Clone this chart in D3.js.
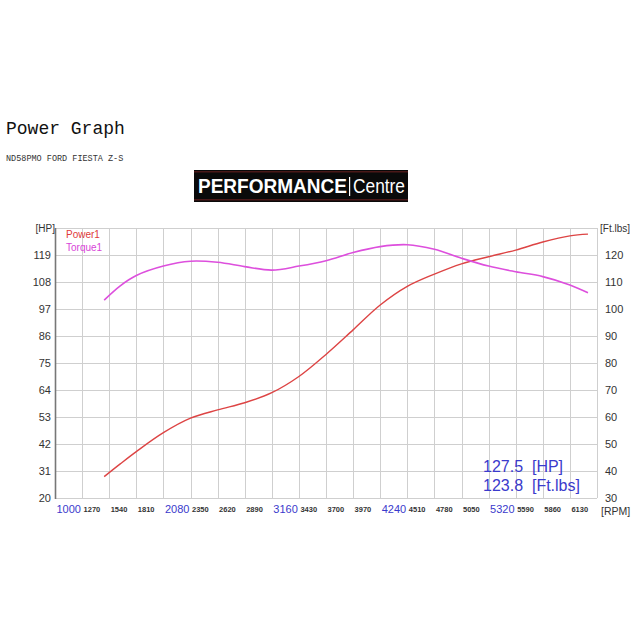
<!DOCTYPE html>
<html><head><meta charset="utf-8">
<script src="https://cdn.jsdelivr.net/npm/d3@7"></script>
<style>body{margin:0;background:#fff}svg{display:block}</style>
</head><body>
<script>
const title = "Power Graph";
const subtitle = "ND58PMO FORD FIESTA Z-S";
const rpmTicks = [1000,1270,1540,1810,2080,2350,2620,2890,3160,3430,3700,3970,4240,4510,4780,5050,5320,5590,5860,6130];
const hpTicks = [20,31,42,53,64,75,86,97,108,119];
const tqTicks = [30,40,50,60,70,80,90,100,110,120];
const rpm = [1490,1650,1810,2080,2350,2620,2890,3160,3430,3700,3970,4240,4510,4780,5050,5320,5590,5860,6130,6310];
const power = [28.7,33.9,38.9,46.6,52.5,55.9,58.8,62.9,69.5,78.5,88.5,98.6,106.2,111.2,115.4,118.3,121.0,124.3,126.8,127.5];
const torque = [103.3,108.6,112.4,115.9,117.7,117.3,115.7,114.4,115.9,117.9,120.9,123.1,123.8,122.1,118.8,115.9,113.8,112.0,108.9,106.0];
const seriesNames = ["Power1","Torque1"];
const peakLabels = ["127.5  [HP]","123.8  [Ft.lbs]"];

const W=640,H=640;
const svg=d3.select("body").append("svg").attr("width",W).attr("height",H);
const L=55,R=597,T=228,B=498;
const x=d3.scaleLinear().domain([1000,6400]).range([L,R]);
const yHP=d3.scaleLinear().domain([20,130]).range([B,T]);
const yT=d3.scaleLinear().domain([30,120]).range([B,255]);

svg.append("text").attr("x",6).attr("y",134).attr("font-family","Liberation Mono, monospace")
  .attr("font-size",18).attr("fill","#111").text(title);
svg.append("text").attr("x",6).attr("y",161).attr("font-family","Liberation Mono, monospace")
  .attr("font-size",8.5).attr("fill","#333").text(subtitle);

// logo
const lg=svg.append("g");
lg.append("rect").attr("x",194).attr("y",170).attr("width",214).attr("height",32).attr("fill","#0a0a0a");
lg.append("rect").attr("x",194).attr("y",171).attr("width",214).attr("height",1.5).attr("fill","#4a1818");
lg.append("rect").attr("x",194).attr("y",199).attr("width",214).attr("height",1.5).attr("fill","#4a1818");
lg.append("text").attr("x",198).attr("y",193).attr("font-family","Liberation Sans, Arial, sans-serif")
  .attr("font-weight","bold").attr("font-size",19.5).attr("fill","#fff")
  .attr("textLength",149).attr("lengthAdjust","spacingAndGlyphs").text("PERFORMANCE");
lg.append("rect").attr("x",349).attr("y",177).attr("width",1.2).attr("height",19).attr("fill","#fff");
lg.append("text").attr("x",353).attr("y",193).attr("font-family","Liberation Sans, Arial, sans-serif")
  .attr("font-size",19.5).attr("fill","#fff")
  .attr("textLength",52).attr("lengthAdjust","spacingAndGlyphs").text("Centre");

// grid
const grid=svg.append("g").attr("stroke","#cfcfcf").attr("stroke-width",1);
grid.selectAll("line.v").data(rpmTicks.concat([6400])).join("line")
  .attr("x1",d=>Math.round(x(d))+0.5).attr("x2",d=>Math.round(x(d))+0.5).attr("y1",T).attr("y2",B);
grid.selectAll("line.h").data(hpTicks.concat([130])).join("line")
  .attr("x1",L).attr("x2",R).attr("y1",d=>Math.round(yHP(d))+0.5).attr("y2",d=>Math.round(yHP(d))+0.5);
svg.append("line").attr("x1",L+0.5).attr("x2",L+0.5).attr("y1",T).attr("y2",B+1).attr("stroke","#777").attr("stroke-width",1.6);

// left axis
const la=svg.append("g").attr("transform",`translate(${L-4},0)`)
  .call(d3.axisLeft(yHP).tickValues(hpTicks).tickSize(0).tickPadding(0));
la.select(".domain").remove();
la.selectAll("text").attr("font-family","Liberation Sans, Arial, sans-serif").attr("font-size",11).attr("fill","#333");
svg.append("text").attr("x",L).attr("y",T+4).attr("text-anchor","end").attr("font-family","Liberation Sans, Arial, sans-serif")
  .attr("font-size",10).attr("fill","#333").text("[HP]");

// right axis
const ra=svg.append("g").attr("transform",`translate(${R+8},0)`)
  .call(d3.axisRight(yT).tickValues(tqTicks).tickSize(0).tickPadding(0));
ra.select(".domain").remove();
ra.selectAll("text").attr("font-family","Liberation Sans, Arial, sans-serif").attr("font-size",11).attr("fill","#333");
svg.append("text").attr("x",R+3).attr("y",T+4).attr("font-family","Liberation Sans, Arial, sans-serif")
  .attr("font-size",10).attr("fill","#333").text("[Ft.lbs]");

// x axis
const xa=svg.append("g").attr("transform",`translate(0,${B})`)
  .call(d3.axisBottom(x).tickValues(rpmTicks).tickSize(0).tickPadding(16).tickFormat(d3.format("d")));
xa.select(".domain").remove();
xa.selectAll("text").attr("text-anchor","start").attr("dx",1)
  .attr("font-family","Liberation Sans, Arial, sans-serif")
  .each(function(d,i){
    const big=i%4===0;
    d3.select(this).attr("font-size",big?11:7.5).attr("font-weight",big?"normal":"bold")
      .attr("fill",big?"#3a3acc":"#333").attr("dy",big?"0.32em":"0.1em")
      .attr("y",big?11:13);
  });
svg.append("text").attr("x",R+4).attr("y",515).attr("font-family","Liberation Sans, Arial, sans-serif")
  .attr("font-size",10.5).attr("fill","#333").text("[RPM]");

// curves
const pData=rpm.map((r,i)=>[r,power[i]]);
const tData=rpm.map((r,i)=>[r,torque[i]]);
svg.append("path").datum(pData).attr("fill","none").attr("stroke","#dd4444").attr("stroke-width",1.4)
  .attr("d",d3.line().x(d=>x(d[0])).y(d=>yHP(d[1])).curve(d3.curveCatmullRom.alpha(0.5)));
svg.append("path").datum(tData).attr("fill","none").attr("stroke","#dd4fdd").attr("stroke-width",1.6)
  .attr("d",d3.line().x(d=>x(d[0])).y(d=>yT(d[1])).curve(d3.curveCatmullRom.alpha(0.5)));

// legend
svg.append("text").attr("x",66).attr("y",238).attr("font-family","Liberation Sans, Arial, sans-serif")
  .attr("font-size",10).attr("fill","#e03a3a").text(seriesNames[0]);
svg.append("text").attr("x",66).attr("y",251).attr("font-family","Liberation Sans, Arial, sans-serif")
  .attr("font-size",10).attr("fill","#d846d8").text(seriesNames[1]);

// peak labels
svg.append("text").attr("x",483).attr("y",472).attr("font-family","Liberation Sans, Arial, sans-serif")
  .attr("font-size",16).attr("fill","#3a3acc").style("white-space","pre").text(peakLabels[0]);
svg.append("text").attr("x",483).attr("y",491).attr("font-family","Liberation Sans, Arial, sans-serif")
  .attr("font-size",16).attr("fill","#3a3acc").style("white-space","pre").text(peakLabels[1]);
</script>
</body></html>
